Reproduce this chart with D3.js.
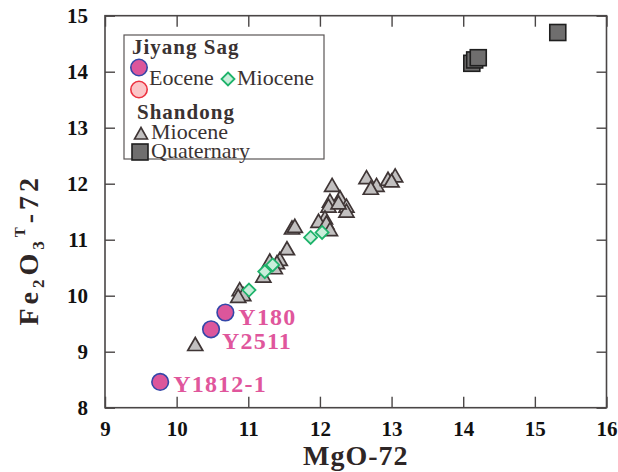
<!DOCTYPE html>
<html>
<head>
<meta charset="utf-8">
<script src="https://cdn.jsdelivr.net/npm/d3@7"></script>
<style>
  html, body { margin: 0; padding: 0; background: #fff; }
  svg { display: block; }
  text { font-family: "Liberation Serif", "Times New Roman", serif; }
</style>
</head>
<body>
<svg id="chart" width="618" height="472"></svg>
<script>
// Jiyang Sag Eocene basalts (labelled samples)
const eoceneNames = ["Y180", "Y2511", "Y1812-1"];
const eoceneMgO   = [10.68, 10.48, 9.77];
const eoceneFe    = [9.70, 9.40, 8.46];

// Jiyang Sag Miocene basalts
const jyMioceneMgO = [11.87, 12.03, 11.23, 11.34, 11.01];
const jyMioceneFe  = [11.04, 11.13, 10.43, 10.55, 10.10];

// Shandong Miocene basalts
const sdMioceneMgO = [12.17, 12.65, 12.79, 12.71, 12.95, 13.05, 13.00, 12.28, 12.14, 12.12,
                      12.37, 12.37, 12.26, 12.07, 11.98, 12.09, 12.14, 11.61, 11.65, 11.54,
                      11.44, 11.40, 11.30, 11.37, 11.21, 10.88, 10.93, 10.86, 10.26];
const sdMioceneFe  = [11.96, 12.10, 11.96, 11.91, 12.07, 12.13, 12.04, 11.74, 11.68, 11.59,
                      11.59, 11.50, 11.65, 11.38, 11.32, 11.29, 11.17, 11.20, 11.23, 10.83,
                      10.64, 10.58, 10.61, 10.49, 10.34, 10.10, 10.01, 9.98, 9.12];

// Shandong Quaternary basalts
const quatMgO = [14.12, 14.16, 14.21, 15.32];
const quatFe  = [14.15, 14.21, 14.25, 14.70];

// Axis ticks
const xTicks = [9, 10, 11, 12, 13, 14, 15, 16];
const yTicks = [8, 9, 10, 11, 12, 13, 14, 15];

const svg = d3.select("#chart");
const x = d3.scaleLinear().domain([9, 16]).range([105, 606.5]);
const y = d3.scaleLinear().domain([8, 15]).range([407.7, 15.7]);

const axisColor = "#4a4646";
const textDark = "#3a3232";

// Inward ticks on all four sides
function styleAxis(g) {
  g.select(".domain").remove();
  g.selectAll(".tick line").attr("stroke", axisColor).attr("stroke-width", 1.4);
  g.selectAll(".tick text")
    .attr("fill", "#111")
    .attr("font-size", 21)
    .attr("font-weight", "bold")
    .attr("font-family", "'Liberation Serif', serif");
}

svg.append("g")
  .attr("transform", `translate(0,${y(8)})`)
  .call(d3.axisBottom(x).tickValues(xTicks).tickFormat(d3.format("d"))
    .tickSizeInner(-11).tickSizeOuter(0).tickPadding(13))
  .call(styleAxis);

svg.append("g")
  .attr("transform", `translate(0,${y(15)})`)
  .call(d3.axisTop(x).tickValues(xTicks).tickFormat("")
    .tickSizeInner(-11).tickSizeOuter(0))
  .call(styleAxis);

svg.append("g")
  .attr("transform", `translate(${x(9)},0)`)
  .call(d3.axisLeft(y).tickValues(yTicks).tickFormat(d3.format("d"))
    .tickSizeInner(-10).tickSizeOuter(0).tickPadding(17))
  .call(styleAxis);

svg.append("g")
  .attr("transform", `translate(${x(16)},0)`)
  .call(d3.axisRight(y).tickValues(yTicks).tickFormat("")
    .tickSizeInner(-10).tickSizeOuter(0))
  .call(styleAxis);

// Plot frame
svg.append("rect")
  .attr("x", x(9)).attr("y", y(15))
  .attr("width", x(16) - x(9)).attr("height", y(8) - y(15))
  .attr("fill", "none").attr("stroke", axisColor).attr("stroke-width", 1.6);

// Axis titles
svg.append("text")
  .attr("x", (x(9) + x(16)) / 2).attr("y", 465)
  .attr("text-anchor", "middle")
  .attr("font-size", 28).attr("font-weight", "bold")
  .attr("letter-spacing", 1)
  .attr("fill", "#2e2626")
  .text("MgO-72");

const yTitle = svg.append("text")
  .attr("transform", `translate(38,${(y(8) + y(15)) / 2 + 38}) rotate(-90)`)
  .attr("text-anchor", "middle")
  .attr("font-size", 28).attr("font-weight", "bold")
  .attr("letter-spacing", 4)
  .attr("fill", "#2e2626");
yTitle.append("tspan").text("Fe");
yTitle.append("tspan").attr("font-size", 17).attr("dy", 6).text("2");
yTitle.append("tspan").attr("dy", -6).text("O");
yTitle.append("tspan").attr("font-size", 17).attr("dy", 6).text("3");
yTitle.append("tspan").attr("font-size", 15).attr("dy", -19).text("T");
yTitle.append("tspan").attr("dy", 13).text("-72");

// Marker styles
const triStyle  = { fill: "#c2c0c0", stroke: "#3f3535" };
const diaStyle  = { fill: "#c9eedb", stroke: "#1eb36b" };
const sqStyle   = { fill: "#6f6e6e", stroke: "#1f1f1f" };
const circStyle = { fill: "#dc569b", stroke: "#3446a8" };
const circ2Style = { fill: "#fbc6c8", stroke: "#ec3240" };

const triPath = "M0,-7.5 L7.5,5.5 L-7.5,5.5 Z";
const diaPath = "M0,-6.5 L6.5,0 L0,6.5 L-6.5,0 Z";

function zipXY(xs, ys) { return xs.map((v, i) => ({ x: v, y: ys[i] })); }

const plot = svg.append("g");

// Shandong Miocene triangles
plot.selectAll(".tri").data(zipXY(sdMioceneMgO, sdMioceneFe)).join("path")
  .attr("class", "tri")
  .attr("d", triPath)
  .attr("transform", d => `translate(${x(d.x)},${y(d.y)})`)
  .attr("fill", triStyle.fill).attr("stroke", triStyle.stroke).attr("stroke-width", 1.7);

// Jiyang Sag Miocene diamonds
plot.selectAll(".dia").data(zipXY(jyMioceneMgO, jyMioceneFe)).join("path")
  .attr("class", "dia")
  .attr("d", diaPath)
  .attr("transform", d => `translate(${x(d.x)},${y(d.y)})`)
  .attr("fill", diaStyle.fill).attr("stroke", diaStyle.stroke).attr("stroke-width", 1.8);

// Shandong Quaternary squares
plot.selectAll(".sq").data(zipXY(quatMgO, quatFe)).join("rect")
  .attr("class", "sq")
  .attr("x", d => x(d.x) - 8).attr("y", d => y(d.y) - 8)
  .attr("width", 16).attr("height", 16)
  .attr("fill", sqStyle.fill).attr("stroke", sqStyle.stroke).attr("stroke-width", 1.6);

// Jiyang Sag Eocene circles with sample labels
const eocene = eoceneNames.map((n, i) => ({ name: n, x: eoceneMgO[i], y: eoceneFe[i] }));
plot.selectAll(".eo").data(eocene).join("circle")
  .attr("class", "eo")
  .attr("cx", d => x(d.x)).attr("cy", d => y(d.y)).attr("r", 8.3)
  .attr("fill", circStyle.fill).attr("stroke", circStyle.stroke).attr("stroke-width", 1.6);

// label offsets (px) from each circle centre
const labelShift = { "Y180": [13, 12], "Y2511": [11, 20], "Y1812-1": [13, 10] };
plot.selectAll(".eoLabel").data(eocene).join("text")
  .attr("class", "eoLabel")
  .attr("x", d => x(d.x) + labelShift[d.name][0])
  .attr("y", d => y(d.y) + labelShift[d.name][1])
  .attr("font-size", 24).attr("font-weight", "bold")
  .attr("letter-spacing", 1.2)
  .attr("fill", "#e0569c")
  .text(d => d.name);

// Legend
const lg = svg.append("g");
lg.append("rect")
  .attr("x", 124).attr("y", 35).attr("width", 200).attr("height", 124)
  .attr("fill", "#fff").attr("stroke", "#5a5555").attr("stroke-width", 1.2);

function legendText(tx, ty, str, bold) {
  lg.append("text")
    .attr("x", tx).attr("y", ty)
    .attr("font-size", bold ? 21 : 22)
    .attr("font-weight", bold ? "bold" : "normal")
    .attr("letter-spacing", bold ? 1 : 0)
    .attr("fill", textDark)
    .text(str);
}

legendText(132, 54, "Jiyang Sag", true);
lg.append("circle").attr("cx", 139).attr("cy", 67.5).attr("r", 8.2)
  .attr("fill", circStyle.fill).attr("stroke", circStyle.stroke).attr("stroke-width", 1.6);
lg.append("circle").attr("cx", 139).attr("cy", 89.5).attr("r", 8.2)
  .attr("fill", circ2Style.fill).attr("stroke", circ2Style.stroke).attr("stroke-width", 1.6);
legendText(149, 85, "Eocene", false);
lg.append("path").attr("d", diaPath).attr("transform", "translate(228,79)")
  .attr("fill", diaStyle.fill).attr("stroke", diaStyle.stroke).attr("stroke-width", 1.8);
legendText(237, 85, "Miocene", false);
legendText(137, 119, "Shandong", true);
lg.append("path").attr("d", "M0,-6.5 L6.5,5 L-6.5,5 Z").attr("transform", "translate(141,134)")
  .attr("fill", triStyle.fill).attr("stroke", triStyle.stroke).attr("stroke-width", 1.6);
legendText(151, 139, "Miocene", false);
lg.append("rect").attr("x", 132).attr("y", 144).attr("width", 16).attr("height", 16)
  .attr("fill", sqStyle.fill).attr("stroke", sqStyle.stroke).attr("stroke-width", 1.6);
legendText(151, 158, "Quaternary", false);
</script>
</body>
</html>
